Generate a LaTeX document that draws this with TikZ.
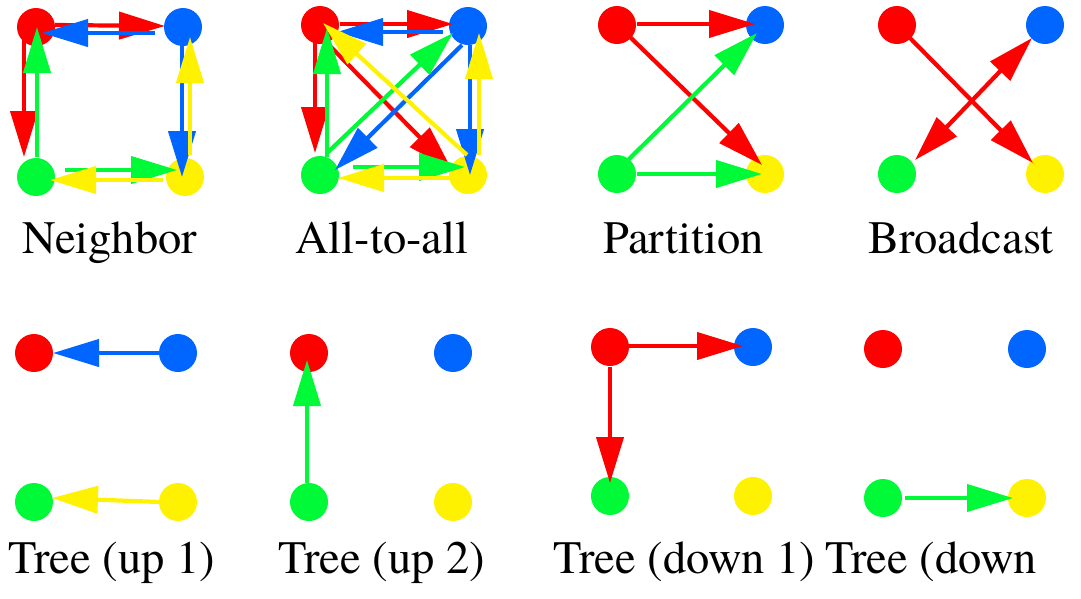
\documentclass[tikz,border=0pt]{standalone}
\usepackage{fontspec}
\newfontfamily\timesfont{texgyretermes-regular.otf}
\usetikzlibrary{arrows.meta,calc}
\definecolor{cred}{RGB}{255,0,0}
\definecolor{cblue}{RGB}{0,102,255}
\definecolor{cgreen}{RGB}{0,250,55}
\definecolor{cyellow}{RGB}{255,242,0}
\tikzset{
  dot/.style={circle,inner sep=0pt,minimum size=38pt,draw=none},
  arr/.style={line width=4.2pt,-{Triangle[length=46pt,width=27pt]}},
  dbl/.style={line width=4.2pt,{Triangle[length=46pt,width=27pt]}-{Triangle[length=46pt,width=27pt]}},
  lbl/.style={anchor=base west,inner sep=0pt,font=\timesfont\fontsize{46.5}{50}\selectfont}
}
\begin{document}
\begin{tikzpicture}[x=1pt,y=-1pt]
\useasboundingbox (0,0) rectangle (1081,598);
% ---------- Neighbor ----------
\node[dot,fill=cred]    (ar) at (36,27)  {};
\node[dot,fill=cblue]   (ab) at (183,27) {};
\node[dot,fill=cgreen]  (ag) at (36,177) {};
\node[dot,fill=cyellow] (ay) at (185,177) {};
\draw[arr,cred]    ($(ar)+(19,-2)$)  -- ($(ab)+(-18,-1)$);
\draw[arr,cred]    ($(ar)+(-12,13)$) -- ($(ag)+(-12,-20)$);
\draw[arr,cblue]   ($(ab)+(-28,6)$)  -- ($(ar)+(6,6)$);
\draw[arr,cblue]   ($(ab)+(-1,13)$)  -- ($(ay)+(-3,0)$);
\draw[arr,cgreen]  ($(ag)+(1,-20)$)  -- ($(ar)+(1,0)$);
\draw[arr,cgreen]  ($(ag)+(29,-7)$)  -- ($(ay)+(-8,-7)$);
\draw[arr,cyellow] ($(ay)+(5,-22)$)  -- ($(ab)+(7,10)$);
\draw[arr,cyellow] ($(ay)+(-22,3)$)  -- ($(ag)+(14,3)$);
\node[lbl] (la) at (22,253) {Neighbor};
% ---------- All-to-all ----------
\node[dot,fill=cred]    (br) at (320,25)  {};
\node[dot,fill=cblue]   (bb) at (468,26)  {};
\node[dot,fill=cgreen]  (bg) at (320,175) {};
\node[dot,fill=cyellow] (by) at (468,175) {};
\draw[arr,cred]    ($(br)+(20,-1)$)  -- ($(bb)+(-15,-2)$);
\draw[arr,cred]    ($(br)+(-5,12)$)  -- ($(bg)+(-5,-22)$);
\draw[arr,cred]    ($(br)+(2,13)$)   -- ($(by)+(-16,-5)$);
\draw[arr,cblue]   ($(bb)+(-25,6)$)  -- ($(br)+(17,7)$);
\draw[arr,cblue]   ($(bb)+(-6,19)$)  -- ($(bg)+(15,-5)$);
\draw[arr,cblue]   ($(bb)+(2,19)$)   -- ($(by)+(2,0)$);
\draw[arr,cgreen]  ($(bg)+(7,-18)$)  -- ($(br)+(7,3)$);
\draw[arr,cgreen]  ($(bg)+(7,-22)$)  -- ($(bb)+(-15,7)$);
\draw[arr,cgreen]  ($(bg)+(33,-8)$)  -- ($(by)+(-3,-8)$);
\draw[arr,cyellow] ($(by)+(-1,-20)$) -- ($(br)+(3,-2)$);
\draw[arr,cyellow] ($(by)+(11,-20)$) -- ($(bb)+(11,7)$);
\draw[arr,cyellow] ($(by)+(-8,3)$)   -- ($(bg)+(18,3)$);
\node[lbl] (lb) at (295,253) {All-to-all};
% ---------- Partition ----------
\node[dot,fill=cred]    (cr) at (617,25)  {};
\node[dot,fill=cblue]   (cb) at (765,25)  {};
\node[dot,fill=cgreen]  (cg) at (617,174) {};
\node[dot,fill=cyellow] (cy) at (765,174) {};
\draw[arr,cred]   ($(cr)+(20,-1)$)  -- ($(cb)+(-10,-1)$);
\draw[arr,cred]   ($(cr)+(13,12)$)  -- ($(cy)+(-3,-9)$);
\draw[arr,cgreen] ($(cg)+(11,-14)$) -- ($(cb)+(-8,8)$);
\draw[arr,cgreen] ($(cg)+(20,0)$)   -- ($(cy)+(-3,0)$);
\node[lbl] (lc) at (603,253) {Partition};
% ---------- Broadcast ----------
\node[dot,fill=cred]    (dr) at (897,25)   {};
\node[dot,fill=cblue]   (db) at (1045,25)  {};
\node[dot,fill=cgreen]  (dg) at (897,174)  {};
\node[dot,fill=cyellow] (dy) at (1045,174) {};
\draw[arr,cred] ($(dr)+(13,13)$)  -- ($(dy)+(-12,-11)$);
\draw[dbl,cred] ($(dg)+(18,-14)$) -- ($(db)+(-13,13)$);
\node[lbl] (ld) at (868,253) {Broadcast};
% ---------- Tree (up 1) ----------
\node[dot,fill=cred]    (er) at (34,353)  {};
\node[dot,fill=cblue]   (eb) at (178,353) {};
\node[dot,fill=cgreen]  (eg) at (34,502)  {};
\node[dot,fill=cyellow] (ey) at (178,502) {};
\draw[arr,cblue]   ($(eb)+(-18,0)$) -- ($(er)+(19,0)$);
\draw[arr,cyellow] ($(ey)+(-18,0)$) -- ($(eg)+(18,-4)$);
\node[lbl] (le) at (8,573) {Tree (up 1)};
% ---------- Tree (up 2) ----------
\node[dot,fill=cred]    (fr) at (309,353) {};
\node[dot,fill=cblue]   (fb) at (453,353) {};
\node[dot,fill=cgreen]  (fg) at (309,502) {};
\node[dot,fill=cyellow] (fy) at (453,502) {};
\draw[arr,cgreen] ($(fg)+(-2,-19)$) -- ($(fr)+(-2,7)$);
\node[lbl] (lf) at (278,573) {Tree (up 2)};
% ---------- Tree (down 1) ----------
\node[dot,fill=cred]    (gr) at (610,347) {};
\node[dot,fill=cblue]   (gb) at (753,347) {};
\node[dot,fill=cgreen]  (gg) at (610,496) {};
\node[dot,fill=cyellow] (gy) at (753,496) {};
\draw[arr,cred] ($(gr)+(18,-1)$) -- ($(gb)+(-10,-1)$);
\draw[arr,cred] ($(gr)+(0,20)$)  -- ($(gg)+(0,-13)$);
\node[lbl] (lg) at (553,573) {Tree (down 1)};
% ---------- Tree (down 2) ----------
\node[dot,fill=cred]    (hr) at (883,349)  {};
\node[dot,fill=cblue]   (hb) at (1027,349) {};
\node[dot,fill=cgreen]  (hg) at (883,498)  {};
\node[dot,fill=cyellow] (hy) at (1027,498) {};
\draw[arr,cgreen] ($(hg)+(22,0)$) -- ($(hy)+(-14,0)$);
\node[lbl] (lh) at (825,573) {Tree (down};
\end{tikzpicture}
\end{document}
